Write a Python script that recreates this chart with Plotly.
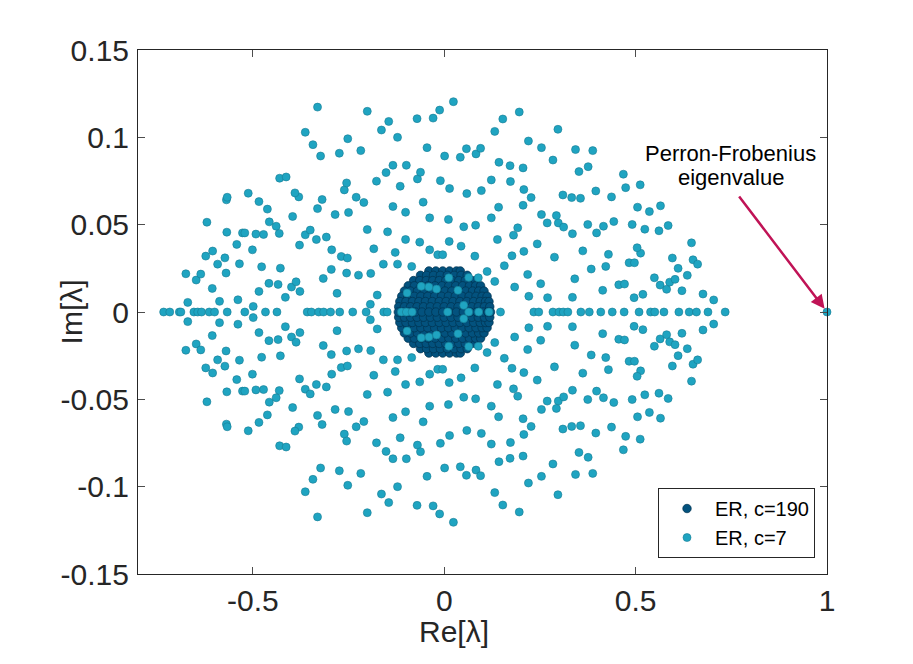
import plotly.graph_objects as go

# ---------------- data ----------------
# ER, c=7 : eigenvalues lying on the real axis
c7_real_axis = [-0.733, -0.717, -0.692, -0.688, -0.654, -0.644, -0.634, -0.614, -0.600,
                -0.567, -0.521, -0.467, -0.437, -0.358, -0.347, -0.328, -0.315, -0.297,
                -0.273, -0.239, -0.204, -0.158, -0.149, -0.112, -0.099, -0.084, 0.009,
                0.064, 0.090, 0.117, 0.147, 0.234, 0.247, 0.284, 0.300, 0.311, 0.323,
                0.357, 0.379, 0.409, 0.439, 0.470, 0.509, 0.539, 0.550, 0.574, 0.613,
                0.640, 0.659, 0.689, 0.734]

# ER, c=7 : complex-conjugate pairs (real part, |imaginary part|)
c7_pair_re = [-0.670, -0.587, -0.539, -0.499, -0.415, -0.484, -0.458, -0.434, -0.399, -0.377,
              -0.387, -0.280, -0.193, -0.175, -0.606, -0.675, -0.648, -0.636, -0.570, -0.592,
              -0.573, -0.535, -0.477, -0.428, -0.316, -0.295, -0.255, -0.224, -0.192, -0.159,
              -0.122, -0.085, -0.623, -0.605, -0.542, -0.501, -0.568, -0.527, -0.521, -0.492,
              -0.472, -0.431, -0.439, -0.457, -0.620, -0.378, -0.363, -0.350, -0.334, -0.308,
              -0.294, -0.269, -0.253, -0.184, -0.128, -0.201, -0.148, -0.101, -0.064, -0.038,
              -0.017, -0.004, 0.013, 0.044, 0.051, 0.011, -0.038, -0.101, -0.134, -0.055,
              -0.396, -0.462, -0.484, -0.569, -0.567, -0.512, -0.331, -0.319, -0.285, -0.250,
              -0.210, -0.230, -0.380, -0.390, -0.261, -0.255, -0.430, -0.413, -0.177, -0.152,
              -0.134, -0.099, -0.115, -0.070, -0.062, -0.010, 0.014, 0.059, -0.323, -0.343,
              -0.274, -0.218, -0.363, -0.252, -0.164, -0.122, -0.145, -0.045, 0.001, 0.042,
              0.058, -0.071, -0.029, -0.012, 0.024, -0.201, -0.331,
              -0.097, -0.060, -0.040, -0.020, 0.036, 0.012, 0.064, 0.051, 0.089,
              0.221, 0.270, 0.335, 0.414, 0.496, 0.519, 0.456, 0.471, 0.549, 0.564,
              0.581, 0.589, 0.603, 0.621, 0.635, 0.676, 0.704, 0.184, 0.252, 0.132,
              0.112, 0.218, 0.341, 0.157, 0.384, 0.422, 0.483, 0.497, 0.611, 0.650,
              0.662, 0.596, 0.080, 0.177, 0.208, 0.288, 0.362, 0.429, 0.513, 0.504,
              0.646, 0.243, 0.139, 0.181, 0.192, 0.082, 0.123, 0.335, 0.398, 0.416,
              0.443, 0.375, 0.269, 0.298, 0.312, 0.293, 0.254, 0.491, 0.524, 0.561,
              0.585, 0.536, 0.565, 0.505, 0.142, 0.206, 0.227, 0.310, 0.333, 0.356,
              0.396, 0.437, 0.474, 0.512, 0.468, 0.097, 0.123, 0.173, 0.208, 0.143,
              0.172, 0.206, 0.284, 0.352, 0.376, 0.083, 0.095, 0.254, 0.220, 0.343,
              0.388, 0.132, 0.153, 0.196, 0.297]
c7_pair_im = [0.0055, 0.0061, 0.0070, 0.0032, 0.0084, 0.0118, 0.0164, 0.0158, 0.0143, 0.0118,
              0.0173, 0.0107, 0.0044, 0.0097, 0.0135, 0.0219, 0.0183, 0.0217, 0.0223, 0.0274,
              0.0310, 0.0276, 0.0259, 0.0251, 0.0192, 0.0244, 0.0223, 0.0211, 0.0221, 0.0274,
              0.0274, 0.0261, 0.0320, 0.0349, 0.0387, 0.0356, 0.0457, 0.0453, 0.0453, 0.0446,
              0.0444, 0.0450, 0.0491, 0.0516, 0.0514, 0.0383, 0.0442, 0.0469, 0.0415, 0.0429,
              0.0356, 0.0318, 0.0309, 0.0362, 0.0341, 0.0472, 0.0459, 0.0415, 0.0400, 0.0356,
              0.0328, 0.0328, 0.0404, 0.0377, 0.0488, 0.0530, 0.0539, 0.0571, 0.0604, 0.0629,
              0.0547, 0.0589, 0.0632, 0.0642, 0.0657, 0.0680, 0.0592, 0.0644, 0.0558, 0.0570,
              0.0627, 0.0657, 0.0659, 0.0682, 0.0699, 0.0739, 0.0766, 0.0773, 0.0749, 0.0798,
              0.0840, 0.0840, 0.0720, 0.0762, 0.0800, 0.0752, 0.0707, 0.0678, 0.0893, 0.0958,
              0.0909, 0.0924, 0.1029, 0.0992, 0.1042, 0.1000, 0.1091, 0.0941, 0.0893, 0.0886,
              0.0935, 0.1107, 0.1110, 0.1156, 0.1204, 0.1149, 0.1173,
              0.0109, 0.0147, 0.0143, 0.0131, 0.0124, 0.0196, 0.0198, 0.0038, 0.0196,
              0.0090, 0.0082, 0.0084, 0.0124, 0.0082, 0.0101, 0.0156, 0.0160, 0.0196, 0.0154,
              0.0130, 0.0171, 0.0187, 0.0122, 0.0210, 0.0103, 0.0069, 0.0143, 0.0162, 0.0175,
              0.0232, 0.0215, 0.0190, 0.0265, 0.0246, 0.0261, 0.0282, 0.0282, 0.0250, 0.0299,
              0.0274, 0.0309, 0.0320, 0.0322, 0.0347, 0.0314, 0.0350, 0.0330, 0.0337, 0.0368,
              0.0396, 0.0390, 0.0415, 0.0440, 0.0482, 0.0497, 0.0539, 0.0448, 0.0453, 0.0491,
              0.0518, 0.0501, 0.0510, 0.0510, 0.0486, 0.0552, 0.0558, 0.0501, 0.0474, 0.0465,
              0.0495, 0.0575, 0.0608, 0.0600, 0.0600, 0.0611, 0.0655, 0.0670, 0.0655, 0.0651,
              0.0693, 0.0659, 0.0712, 0.0728, 0.0789, 0.0695, 0.0756, 0.0747, 0.0701, 0.0857,
              0.0838, 0.0825, 0.0870, 0.0804, 0.0832, 0.0905, 0.0937, 0.0941, 0.0979, 0.0930,
              0.0924, 0.1034, 0.1105, 0.1145, 0.1046]

# Perron-Frobenius eigenvalue of the c=7 matrix
pf_re = [1.0]
pf_im = [0.0]

# ER, c=190 : dense bulk, read row by row (|imaginary part| of each row, real parts in that row)
c190_row_im = [0.0235, 0.021, 0.018, 0.015, 0.012, 0.009, 0.006, 0.003]
c190_row_re = [
    [-0.040, -0.022, -0.004, 0.014, 0.032, 0.042],
    [-0.062, -0.046, -0.028, -0.010, 0.008, 0.026, 0.044, 0.060],
    [-0.080, -0.064, -0.047, -0.030, -0.013, 0.004, 0.021, 0.038, 0.055, 0.071, 0.082],
    [-0.094, -0.078, -0.060, -0.042, -0.024, -0.006, 0.012, 0.030, 0.048, 0.066, 0.082, 0.095],
    [-0.104, -0.088, -0.070, -0.052, -0.034, -0.016, 0.002, 0.020, 0.038, 0.056, 0.074, 0.090, 0.104],
    [-0.111, -0.095, -0.078, -0.061, -0.043, -0.025, -0.007, 0.011, 0.029, 0.047, 0.065, 0.083, 0.099, 0.112],
    [-0.116, -0.100, -0.083, -0.066, -0.049, -0.031, -0.013, 0.005, 0.023, 0.041, 0.059, 0.077, 0.094, 0.108, 0.117],
    [-0.119, -0.104, -0.088, -0.071, -0.054, -0.036, -0.018, 0.000, 0.018, 0.036, 0.054, 0.072, 0.089, 0.105, 0.119],
]
c190_axis_re = [-0.120, -0.109, -0.092, -0.075, -0.058, -0.040, -0.022, -0.004, 0.014,
                0.032, 0.050, 0.068, 0.085, 0.102, 0.114, 0.121]

x_tickvals = [-0.5, 0, 0.5, 1]
x_ticktext = ["-0.5", "0", "0.5", "1"]
y_tickvals = [-0.15, -0.1, -0.05, 0, 0.05, 0.1, 0.15]
y_ticktext = ["-0.15", "-0.1", "-0.05", "0", "0.05", "0.1", "0.15"]

# ---------------- assemble (eigenvalues of real matrices come in conjugate pairs) ----------------
c7_x = list(c7_real_axis) + list(c7_pair_re) + list(c7_pair_re) + pf_re
c7_y = [0.0] * len(c7_real_axis) + list(c7_pair_im) + [-v for v in c7_pair_im] + pf_im

c190_x, c190_y = [], []
for im, row in zip(c190_row_im, c190_row_re):
    for re in row:
        c190_x += [re, re]
        c190_y += [im, -im]
c190_x += c190_axis_re
c190_y += [0.0] * len(c190_axis_re)

FONT = "Liberation Sans, Arial, Helvetica, sans-serif"
TXT = "#262626"

fig = go.Figure()
fig.add_trace(go.Scatter(
    x=c190_x, y=c190_y, mode="markers", name="ER, c=190",
    marker=dict(size=8.5, color="#03527e", line=dict(color="#01324f", width=0.7)),
    cliponaxis=False,
))
fig.add_trace(go.Scatter(
    x=c7_x, y=c7_y, mode="markers", name="ER, c=7",
    marker=dict(size=8, color="#1fa4c1", line=dict(color="#177c93", width=0.6)),
    cliponaxis=False,
))

axis_common = dict(
    showline=True, linecolor=TXT, linewidth=1, mirror="ticks",
    ticks="inside", ticklen=7, tickwidth=1, tickcolor="#4d4d4d",
    showgrid=False, zeroline=False,
    tickfont=dict(family=FONT, size=30, color=TXT),
)
fig.update_xaxes(range=[-0.8, 1.0], tickvals=x_tickvals, ticktext=x_ticktext,
                 ticklabelstandoff=0, **axis_common)
fig.update_yaxes(range=[-0.15, 0.15], tickvals=y_tickvals, ticktext=y_ticktext,
                 ticklabelstandoff=2, **axis_common)

fig.update_layout(
    width=913, height=664,
    margin=dict(l=130, r=94, t=42, b=98),
    paper_bgcolor="white", plot_bgcolor="white",
    font=dict(family=FONT, color=TXT),
    showlegend=True,
    legend=dict(x=0.9826, y=0.0305, xanchor="right", yanchor="bottom",
                bgcolor="white", bordercolor=TXT, borderwidth=1,
                font=dict(family=FONT, size=20, color="black"),
                itemwidth=46, tracegroupgap=0),
    annotations=[
        dict(text="Re[λ]", xref="paper", yref="paper", x=0.458, y=-0.1106,
             xanchor="center", yanchor="middle", showarrow=False,
             font=dict(family=FONT, size=30, color=TXT)),
        dict(text="Im[λ]", xref="paper", yref="paper", x=-0.0966, y=0.5,
             xanchor="center", yanchor="middle", textangle=-90, showarrow=False,
             font=dict(family=FONT, size=30, color=TXT)),
        dict(text="", x=1.0, y=0.0, xref="x", yref="y", ax=-89, ay=-117,
             showarrow=True, arrowhead=2, arrowsize=1.1, arrowwidth=2.5,
             arrowcolor="#c01356", standoff=4),
        dict(text="Perron-Frobenius", x=0.749, y=0.0905, xref="x", yref="y",
             xanchor="center", yanchor="middle", showarrow=False,
             font=dict(family=FONT, size=22, color="black")),
        dict(text="eigenvalue", x=0.749, y=0.0770, xref="x", yref="y",
             xanchor="center", yanchor="middle", showarrow=False,
             font=dict(family=FONT, size=22, color="black")),
    ],
)

fig.write_html("out.html")
